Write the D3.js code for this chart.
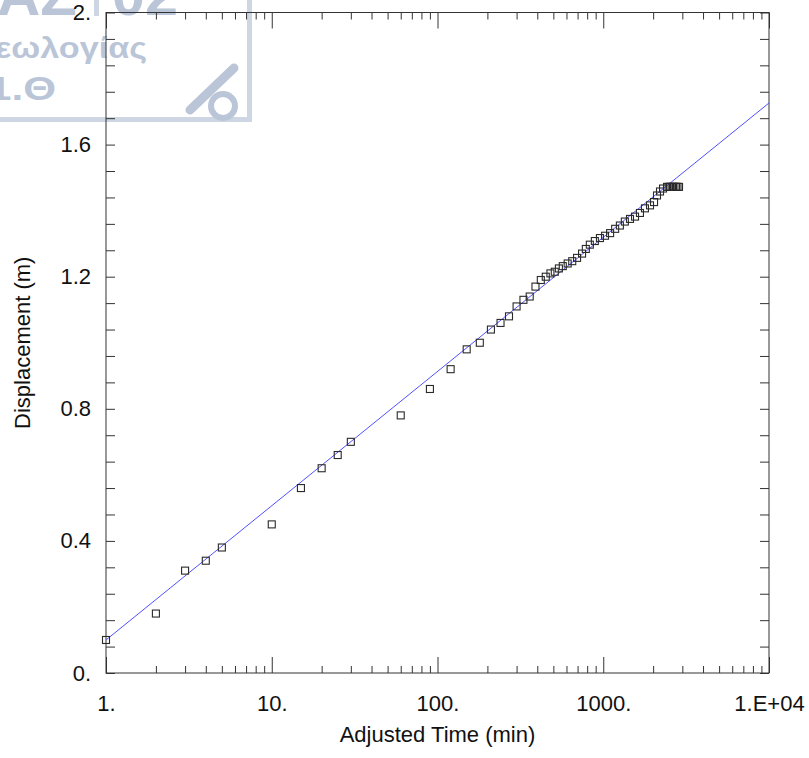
<!DOCTYPE html>
<html>
<head>
<meta charset="utf-8">
<script src="https://cdn.jsdelivr.net/npm/d3@7"></script>
<style>
  html, body { margin: 0; padding: 0; background: #fff; }
  svg { display: block; }
  text { font-family: "Liberation Sans", Arial, sans-serif; }
</style>
</head>
<body>
<svg id="chart" width="809" height="758"></svg>
<script>
// ---- data ----
const times = [1, 2, 3, 4, 5, 10, 15, 20, 25, 30, 60, 90, 120, 150, 180, 210, 240, 270, 300, 330, 360, 390,
  420, 450, 480, 510, 540, 570, 610, 650, 695, 745, 785, 830, 890, 955, 1025, 1100, 1180, 1260, 1350,
  1450, 1555, 1665, 1785, 1915, 2025, 2110, 2200, 2295, 2425, 2480, 2530, 2585, 2635, 2690, 2750, 2805, 2865];
const displacement = [0.10, 0.18, 0.31, 0.34, 0.38, 0.45, 0.56, 0.62, 0.66, 0.70, 0.78, 0.86, 0.92, 0.98, 1.00, 1.04, 1.06, 1.08,
  1.11, 1.13, 1.14, 1.17, 1.19, 1.20, 1.21, 1.215, 1.225, 1.232, 1.24, 1.247, 1.257, 1.27, 1.284, 1.297, 1.308, 1.317,
  1.324, 1.332, 1.345, 1.355, 1.367, 1.375, 1.382, 1.393, 1.407, 1.416, 1.426, 1.446, 1.458, 1.467,
  1.472, 1.472, 1.472, 1.472, 1.472, 1.472, 1.472, 1.472, 1.472];
const fitLineX = [1, 10000];
const fitLineY = [0.10, 1.726];
const xTickValues = [1, 10, 100, 1000, 10000];
const xTickLabels = ["1.", "10.", "100.", "1000.", "1.E+04"];
const yTickValues = [0, 0.4, 0.8, 1.2, 1.6, 2.0];
const yTickLabels = ["0.", "0.4", "0.8", "1.2", "1.6", "2."];
const yMinorStep = 0.08;

// ---- layout ----
const svg = d3.select("#chart");
const L = 106, R = 769, T = 12.5, B = 673;
const x = d3.scaleLog().domain([1, 10000]).range([L, R]);
const y = d3.scaleLinear().domain([0, 2]).range([B, T]);

// ---- watermark ----
const wmColor = "#afbcd2";
const wm = svg.append("g").attr("fill", wmColor).attr("opacity", 0.85);
wm.append("rect").attr("x", 247).attr("y", 0).attr("width", 5).attr("height", 122).attr("fill", "#c5cfde");
wm.append("rect").attr("x", 0).attr("y", 117).attr("width", 252).attr("height", 5).attr("fill", "#c5cfde");
wm.append("rect").attr("x", 94).attr("y", 0).attr("width", 5).attr("height", 16).attr("fill", "#c5cfde");
wm.append("text").attr("x", -3).attr("y", 15).attr("font-family", "DejaVu Sans").attr("font-weight", "bold")
  .attr("font-size", 58).attr("textLength", 80).attr("lengthAdjust", "spacingAndGlyphs").text("AZ");
wm.append("text").attr("x", 112).attr("y", 15).attr("font-family", "DejaVu Sans").attr("font-weight", "bold")
  .attr("font-size", 58).attr("textLength", 66).attr("lengthAdjust", "spacingAndGlyphs").text("02");
wm.append("text").attr("x", -5).attr("y", 58).attr("font-family", "DejaVu Sans").attr("font-weight", "bold")
  .attr("font-size", 29).attr("textLength", 152).attr("lengthAdjust", "spacingAndGlyphs").text("εωλογίας");
wm.append("text").attr("x", -12).attr("y", 100).attr("font-family", "DejaVu Sans").attr("font-weight", "bold")
  .attr("font-size", 34).attr("textLength", 68).attr("lengthAdjust", "spacingAndGlyphs").text("1.Θ");
wm.append("line").attr("x1", 234).attr("y1", 68).attr("x2", 190).attr("y2", 110)
  .attr("stroke", wmColor).attr("stroke-width", 9).attr("stroke-linecap", "round");
wm.append("circle").attr("cx", 223).attr("cy", 106).attr("r", 12)
  .attr("fill", "none").attr("stroke", wmColor).attr("stroke-width", 6);

// ---- axes ----
const axisColor = "#333";
const minorX = x.ticks().filter(v => !xTickValues.includes(v));
const minorY = d3.range(0, 2.0001, yMinorStep);
const fmtX = (d) => xTickLabels[xTickValues.indexOf(d)];
const fmtY = (d) => yTickLabels[yTickValues.findIndex(v => Math.abs(v - d) < 1e-9)];

function styleAxis(g) {
  g.select(".domain").remove();
  g.selectAll("line").attr("stroke", axisColor).attr("stroke-width", 1);
  g.selectAll("text").attr("fill", "#111").attr("font-size", 22)
    .attr("font-family", "'Liberation Sans', Arial, sans-serif");
}

// bottom
svg.append("g").attr("transform", `translate(0,${B})`)
  .call(d3.axisBottom(x).tickValues(xTickValues).tickFormat(fmtX).tickSize(-16).tickSizeOuter(0).tickPadding(22))
  .call(styleAxis);
svg.append("g").attr("transform", `translate(0,${B})`)
  .call(d3.axisBottom(x).tickValues(minorX).tickFormat("").tickSize(-7).tickSizeOuter(0))
  .call(styleAxis);
// top
svg.append("g").attr("transform", `translate(0,${T})`)
  .call(d3.axisTop(x).tickValues(xTickValues).tickFormat("").tickSize(-16).tickSizeOuter(0))
  .call(styleAxis);
svg.append("g").attr("transform", `translate(0,${T})`)
  .call(d3.axisTop(x).tickValues(minorX).tickFormat("").tickSize(-7).tickSizeOuter(0))
  .call(styleAxis);
// left
svg.append("g").attr("transform", `translate(${L},0)`)
  .call(d3.axisLeft(y).tickValues(minorY).tickFormat("").tickSize(-9).tickSizeOuter(0))
  .call(styleAxis);
svg.append("g").attr("transform", `translate(${L},0)`)
  .call(d3.axisLeft(y).tickValues(yTickValues).tickFormat(fmtY).tickSize(0).tickSizeOuter(0).tickPadding(15))
  .call(styleAxis);
// right
svg.append("g").attr("transform", `translate(${R},0)`)
  .call(d3.axisRight(y).tickValues(minorY).tickFormat("").tickSize(-9).tickSizeOuter(0))
  .call(styleAxis);

// frame
svg.append("rect").attr("x", L).attr("y", T).attr("width", R - L).attr("height", B - T)
  .attr("fill", "none").attr("stroke", axisColor).attr("stroke-width", 1);

// ---- fit line ----
svg.append("path")
  .datum(fitLineX.map((v, i) => [v, fitLineY[i]]))
  .attr("d", d3.line().x(d => x(d[0])).y(d => y(d[1])))
  .attr("stroke", "#5050ff").attr("stroke-width", 1).attr("fill", "none");

// ---- points ----
const s = 7;
svg.append("g").selectAll("rect")
  .data(times.map((t, i) => [t, displacement[i]]))
  .join("rect")
  .attr("x", d => x(d[0]) - s / 2)
  .attr("y", d => y(d[1]) - s / 2)
  .attr("width", s).attr("height", s)
  .attr("fill", "none").attr("stroke", "#2a2a2a").attr("stroke-width", 1.1);

// ---- titles ----
svg.append("text").attr("x", (L + R) / 2).attr("y", 742).attr("text-anchor", "middle")
  .attr("font-size", 22).attr("fill", "#111").text("Adjusted Time (min)");
svg.append("text").attr("transform", `translate(30,${(T + B) / 2}) rotate(-90)`).attr("text-anchor", "middle")
  .attr("font-size", 22).attr("fill", "#111").text("Displacement (m)");
</script>
</body>
</html>
